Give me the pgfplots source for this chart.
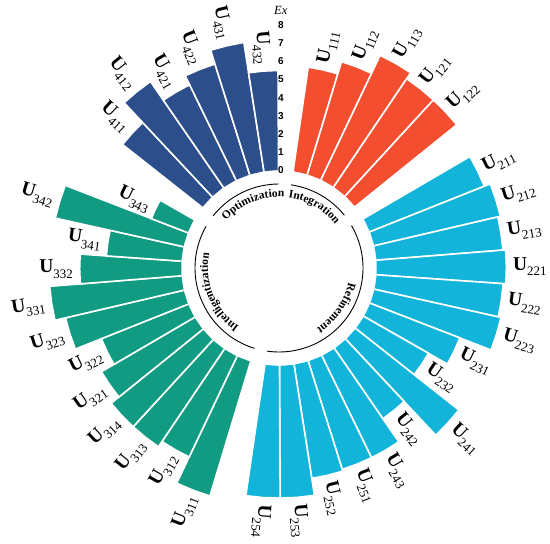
\documentclass[border=0pt]{standalone}
\usepackage{pgfplots}
\pgfplotsset{compat=1.18}
\usepackage{pgfplotstable}
\usepackage{fontspec}
\setmainfont{Liberation Serif}
\newfontfamily\tickfont{Liberation Sans}
\usetikzlibrary{decorations.text}

\definecolor{cRed}{HTML}{F34E2F}
\definecolor{cCyan}{HTML}{12B4D9}
\definecolor{cGreen}{HTML}{129B83}
\definecolor{cNavy}{HTML}{2C4E8B}

% inner radius of the bars (value 0), in value units
\def\rz{5.414}

\newcommand{\ulab}[1]{{\fontsize{19.5}{19.5}\selectfont\bfseries U}\raisebox{-5.5pt}{\fontsize{13}{13}\selectfont #1}}
\newcommand{\arcfont}{\fontsize{11.5}{11.5}\selectfont\bfseries}

% slot, value, colour, label
\newcommand{\rbar}[4]{%
  \pgfmathsetmacro\tc{86-#1*360/42}%
  \pgfmathsetmacro\ta{\tc+360/84}%
  \pgfmathsetmacro\tb{\tc-360/84}%
  \pgfmathsetmacro\ro{\rz+#2}%
  \pgfmathsetmacro\lx{(\ro+0.36)*cos(\tc)}%
  \pgfmathsetmacro\ly{(\ro+0.36)*sin(\tc)}%
  \ifnum#1>22 \pgfmathsetmacro\rot{\tc+180}\def\anc{east}\else\let\rot\tc\def\anc{west}\fi
  \edef\temp{%
    \noexpand\addplot[mark=none, fill=#3, draw=white, line width=1.6pt, data cs=polar]
      coordinates {(\ta,\rz) (\ta,\ro) (\tc,\ro) (\tb,\ro) (\tb,\rz)};
    \noexpand\node[rotate=\rot, anchor=\anc, inner sep=0pt] at (axis cs:\lx,\ly) {\noexpand\ulab{#4}};
  }\temp
}

\pgfplotstableread{
slot value label col
1  5.8  111 cRed
2  6.5  112 cRed
3  7.6  113 cRed
4  7.2  121 cRed
5  7.2  122 cRed
7  6.8  211 cCyan
8  7.15 212 cCyan
9  7.0  213 cCyan
10 7.15 221 cCyan
11 7.0  222 cCyan
12 7.15 223 cCyan
13 5.3  231 cCyan
14 4.1  232 cCyan
15 7.25 241 cCyan
16 4.7  242 cCyan
17 6.25 243 cCyan
18 6.25 251 cCyan
19 6.35 252 cCyan
20 7.3  253 cCyan
21 7.3  254 cCyan
23 7.75 311 cGreen
24 6.15 312 cGreen
25 6.5  313 cGreen
26 6.5  314 cGreen
27 5.95 321 cGreen
28 5.15 322 cGreen
29 6.7  323 cGreen
30 7.3  331 cGreen
31 5.6  332 cGreen
32 4.15 341 cGreen
33 7.25 342 cGreen
34 2.15 343 cGreen
36 5.6  411 cNavy
37 7.1  412 cNavy
38 5.85 421 cNavy
39 6.4  422 cNavy
40 7.2  431 cNavy
41 5.5  432 cNavy
}\bars

\newcommand\arclabel[2]{%
  \path[decorate, decoration={text along path, text align=center,
        text={|\arcfont|#2}}]
    ([shift={({#1+60}:71pt)}]c) arc[start angle={#1+60}, end angle={#1-60}, radius=71pt];
}

\begin{document}
\begin{tikzpicture}
\begin{axis}[
    x=18.1pt, y=18.1pt,
    hide axis, clip=false,
    xmin=-15.41, xmax=14.97,
    ymin=-15.25, ymax=14.81,
]
\coordinate (c) at (axis cs:0,0);
\pgfplotstablegetrowsof{\bars}
\pgfmathtruncatemacro\nrows{\pgfplotsretval-1}
\pgfplotsforeachungrouped \i in {0,...,\nrows}{%
  \pgfplotstablegetelem{\i}{slot}\of{\bars}\let\bs\pgfplotsretval
  \pgfplotstablegetelem{\i}{value}\of{\bars}\let\bv\pgfplotsretval
  \pgfplotstablegetelem{\i}{label}\of{\bars}\let\bl\pgfplotsretval
  \pgfplotstablegetelem{\i}{col}\of{\bars}\let\bc\pgfplotsretval
  \rbar{\bs}{\bv}{\bc}{\bl}%
}

% radial scale
\begin{scope}[every node/.style={font=\tickfont\bfseries\fontsize{10}{10}\selectfont, inner sep=0pt}]
\node at (axis cs:0.1,5.414) {0};
\node at (axis cs:0.1,6.414) {1};
\node at (axis cs:0.1,7.414) {2};
\node at (axis cs:0.1,8.414) {3};
\node at (axis cs:0.1,9.414) {4};
\node at (axis cs:0.1,10.414) {5};
\node at (axis cs:0.1,11.414) {6};
\node at (axis cs:0.1,12.414) {7};
\node at (axis cs:0.1,13.414) {8};
\end{scope}
\node[font=\fontsize{12.5}{12.5}\selectfont\itshape, inner sep=0pt] at (axis cs:0.1,14.25) {Ex};
\end{axis}

% group rings
\draw[line width=0.9pt] ([shift={(81.7:84pt)}]c) arc[start angle=81.7, end angle=38.9, radius=84pt];
\draw[line width=0.9pt] ([shift={(30.3:84pt)}]c) arc[start angle=30.3, end angle=-98.3, radius=84pt];
\draw[line width=0.9pt] ([shift={(-106.9:84pt)}]c) arc[start angle=-106.9, end angle=-209.7, radius=84pt];
\draw[line width=0.9pt] ([shift={(141.7:84pt)}]c) arc[start angle=141.7, end angle=90.3, radius=84pt];
\arclabel{60}{Integration}
\arclabel{-35}{Refinement}
\arclabel{-158}{Intelligentization}
\arclabel{112}{Optimization}

\pgfresetboundingbox
\path[use as bounding box] ([shift={(-279pt,-276pt)}]c) rectangle ([shift={(271pt,268pt)}]c);
\end{tikzpicture}
\end{document}
